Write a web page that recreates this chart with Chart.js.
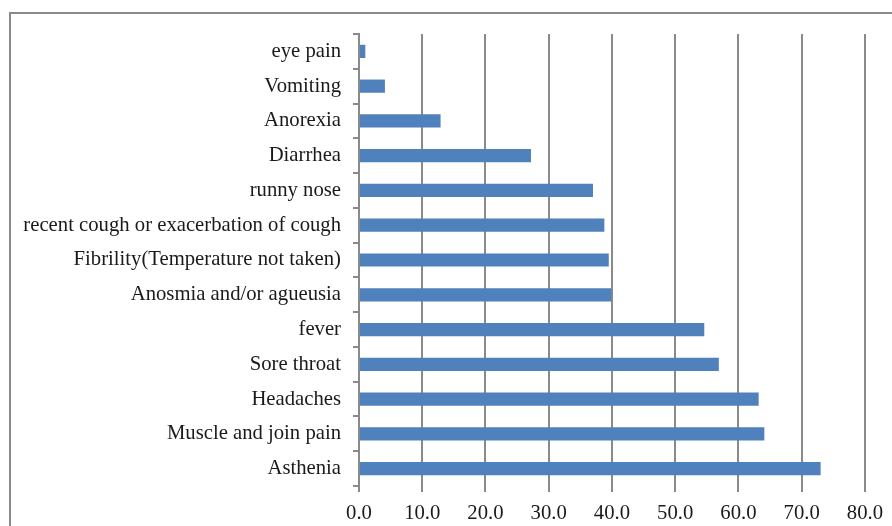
<!DOCTYPE html>
<html>
<head>
<meta charset="utf-8">
<script src="https://cdn.jsdelivr.net/npm/chart.js@4/dist/chart.umd.min.js"></script>
<style>
  html, body { margin: 0; padding: 0; background: #fff; overflow: hidden; }
  #wrap { position: relative; width: 892px; height: 526px; }
  #frame { position: absolute; left: 9px; top: 12px; width: 1000px; height: 1000px;
           border-left: 2px solid #8a8a8a; border-top: 2px solid #8a8a8a; box-sizing: border-box; }
  canvas { position: absolute; left: 0; top: 0; }
</style>
</head>
<body>
<div id="wrap">
  <div id="frame"></div>
  <canvas id="c" width="892" height="526"></canvas>
</div>
<script>
// Symptoms, top to bottom
const symptoms = [
  "eye pain",
  "Vomiting",
  "Anorexia",
  "Diarrhea",
  "runny nose",
  "recent cough or exacerbation of cough",
  "Fibrility(Temperature not taken)",
  "Anosmia and/or agueusia",
  "fever",
  "Sore throat",
  "Headaches",
  "Muscle and join pain",
  "Asthenia"
];
// Share of patients (%)
const percentages = [1.0, 4.1, 12.9, 27.2, 37.0, 38.8, 39.5, 39.9, 54.6, 56.9, 63.2, 64.1, 73.0];
// Horizontal axis range
const axisMin = 0;
const axisMax = 80;
const axisStep = 10;

const serif = "'Liberation Serif', 'Times New Roman', serif";
const gridGray = "#8a8a8a";

new Chart(document.getElementById("c"), {
  type: "bar",
  data: {
    labels: symptoms,
    datasets: [{
      data: percentages,
      backgroundColor: "#4f81bd",
      borderWidth: 0,
      categoryPercentage: 1.0,
      barPercentage: 0.38
    }]
  },
  options: {
    indexAxis: "y",
    responsive: false,
    animation: false,
    layout: { padding: { left: 0, top: 34, right: 27, bottom: 0 } },
    plugins: { legend: { display: false }, tooltip: { enabled: false } },
    scales: {
      x: {
        min: axisMin,
        max: axisMax,
        afterFit: s => { s.height = 40; },
        ticks: {
          stepSize: axisStep,
          color: "#1a1a1a",
          font: { family: serif, size: 20.7 },
          padding: 9,
          callback: v => Number(v).toFixed(1)
        },
        grid: { color: gridGray, lineWidth: 2, tickLength: 6, drawTicks: true },
        border: { display: false }
      },
      y: {
        afterFit: s => { s.width = 359; },
        ticks: {
          color: "#1a1a1a",
          font: { family: serif, size: 20.7 },
          padding: 12,
          autoSkip: false
        },
        grid: { offset: true, drawOnChartArea: false, color: gridGray, lineWidth: 2, tickLength: 6 },
        border: { display: true, color: gridGray, width: 2 }
      }
    }
  }
});
</script>
</body>
</html>
